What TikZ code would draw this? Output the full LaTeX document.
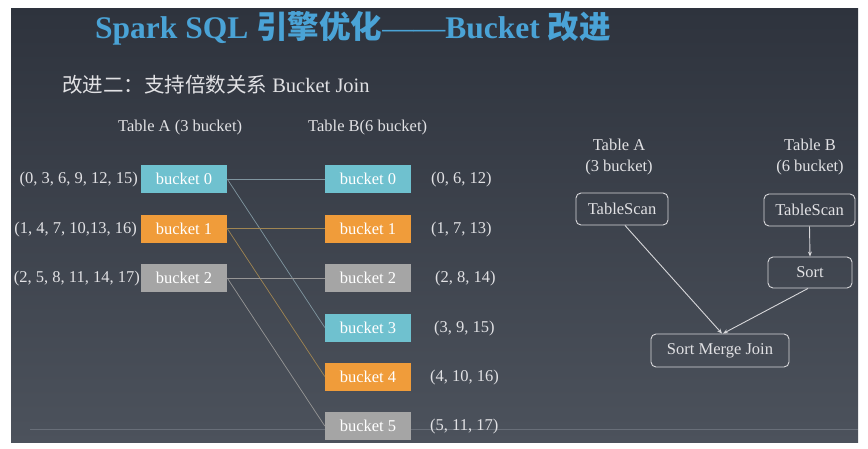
\documentclass[tikz,border=0pt]{standalone}
\usepackage{fontspec}
\setmainfont{Liberation Serif}
\newfontfamily\cjk{Noto Sans CJK SC}
\usetikzlibrary{arrows.meta}
\definecolor{bgtop}{RGB}{46,51,61}
\definecolor{bgbot}{RGB}{76,82,92}
\definecolor{ttl}{RGB}{74,163,214}
\definecolor{bcyan}{RGB}{111,193,207}
\definecolor{borange}{RGB}{240,156,58}
\definecolor{bgrey}{RGB}{165,165,165}
\definecolor{txt}{RGB}{225,225,228}
\definecolor{lcyan}{RGB}{128,150,160}
\definecolor{lorange}{RGB}{160,133,82}
\definecolor{lgrey}{RGB}{150,150,150}
\definecolor{baseln}{RGB}{104,110,120}
\definecolor{rline}{RGB}{215,215,218}
\tikzset{
  bk/.style={draw=none, minimum width=86pt, minimum height=28pt, inner sep=0pt,
    text=white, font=\fontsize{16.5}{19}\selectfont},
  lbl/.style={inner sep=0pt, text=txt, font=\fontsize{16.5}{19}\selectfont},
  rbox/.style={draw=rline, line width=0.9pt, rounded corners=5pt, inner sep=0pt,
    text=txt, font=\fontsize{16.5}{19}\selectfont},
  conn/.style={line width=0.7pt},
  arr/.style={draw=rline, line width=0.9pt, -{Stealth[length=5pt,width=4pt]}}
}
\begin{document}
\begin{tikzpicture}[x=1pt,y=-1pt]
\useasboundingbox (0,0) rectangle (868,448);
\fill[white] (0,0) rectangle (868,448);
\shade[top color=bgtop,bottom color=bgbot] (11,8) rectangle (858,442);

% title and subtitle
\node[anchor=base west, inner sep=0pt, text=ttl] (title) at (95,38)
  {\fontsize{31.5}{36}\selectfont\bfseries Spark SQL {\cjk 引擎优化}{\mdseries ——}Bucket {\cjk 改进}};
\node[anchor=base west, inner sep=0pt, text=txt] (sub) at (62,92)
  {\fontsize{20.5}{24}\selectfont{\cjk 改进二：支持倍数关系} Bucket Join};

\node[lbl, anchor=base west] (ta) at (118,131) {Table A (3 bucket)};
\node[lbl, anchor=base west] (tb) at (308,131) {Table B(6 bucket)};

% bottom line
\coordinate (bl1) at (30,429);
\coordinate (bl2) at (858,429);
\draw[baseln, line width=1pt] (bl1) -- (bl2);

% buckets
\node[bk, fill=bcyan]   (a0) at (184,179)   {bucket 0};
\node[bk, fill=borange] (a1) at (184,228.5) {bucket 1};
\node[bk, fill=bgrey]   (a2) at (184,278)   {bucket 2};

\node[bk, fill=bcyan]   (b0) at (368,179)   {bucket 0};
\node[bk, fill=borange] (b1) at (368,228.5) {bucket 1};
\node[bk, fill=bgrey]   (b2) at (368,278)   {bucket 2};
\node[bk, fill=bcyan]   (b3) at (368,327.5) {bucket 3};
\node[bk, fill=borange] (b4) at (368,376.5) {bucket 4};
\node[bk, fill=bgrey]   (b5) at (368,426)   {bucket 5};

% labels
\node[lbl, anchor=east] (la0) at (138,180) {(0, 3, 6, 9, 12, 15)};
\node[lbl, anchor=east] (la1) at (137,229.5) {(1, 4, 7, 10,13, 16)};
\node[lbl, anchor=east] (la2) at (140,279) {(2, 5, 8, 11, 14, 17)};

\node[lbl, anchor=west] (lb0) at (431,180) {(0, 6, 12)};
\node[lbl, anchor=west] (lb1) at (431,229.5) {(1, 7, 13)};
\node[lbl, anchor=west] (lb2) at (435,279) {(2, 8, 14)};
\node[lbl, anchor=west] (lb3) at (434,328.5) {(3, 9, 15)};
\node[lbl, anchor=west] (lb4) at (430,377.5) {(4, 10, 16)};
\node[lbl, anchor=west] (lb5) at (430,427) {(5, 11, 17)};

% connectors
\draw[conn, lcyan]   (a0.east) -- (b0.west);
\draw[conn, lcyan]   (a0.east) -- (b3.west);
\draw[conn, lorange] (a1.east) -- (b1.west);
\draw[conn, lorange] (a1.east) -- (b4.west);
\draw[conn, lgrey]   (a2.east) -- (b2.west);
\draw[conn, lgrey]   (a2.east) -- (b5.west);

% right part
\node[lbl, align=center] (rta) at (619,157) {Table A\\[1.5pt](3 bucket)};
\node[lbl, align=center] (rtb) at (810,157) {Table B\\[1.5pt](6 bucket)};

\node[rbox, minimum width=92pt, minimum height=32pt] (tsa) at (622,209) {TableScan};
\node[rbox, minimum width=91pt, minimum height=32pt] (tsb) at (809.5,210) {TableScan};
\node[rbox, minimum width=84pt, minimum height=31pt] (sort) at (810,272.5) {Sort};
\node[rbox, minimum width=138pt, minimum height=33pt] (smj) at (720,350.5) {Sort Merge Join};

\draw[arr] ([xshift=3pt]tsa.south) -- ([xshift=2pt]smj.north);
\draw[arr] (tsb.south) -- (sort.north);
\draw[arr] ([xshift=-2pt]sort.south) -- ([xshift=3pt]smj.north);
\end{tikzpicture}
\end{document}
